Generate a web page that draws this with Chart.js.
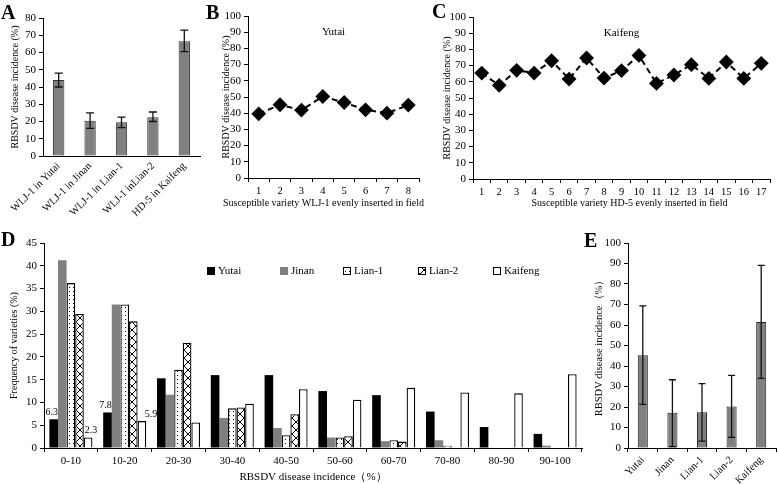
<!DOCTYPE html>
<html>
<head>
<meta charset="utf-8">
<script src="https://cdn.jsdelivr.net/npm/chart.js@4.4.0/dist/chart.umd.min.js"></script>
<style>
    body { margin: 0; background: #fff; width: 778px; height: 484px; position: relative; overflow: hidden; }
    canvas { position: absolute; }
    .letter { position: absolute; font-family: "Liberation Serif", serif; font-weight: bold; font-size: 20px; line-height: 1; color: #000; }
</style>
</head>
<body>
<canvas id="chartA" width="215" height="240" style="left:0;top:0"></canvas>
<canvas id="chartB" width="216" height="215" style="left:218px;top:0"></canvas>
<canvas id="chartC" width="340" height="215" style="left:438px;top:0"></canvas>
<canvas id="chartD" width="590" height="254" style="left:0;top:230px"></canvas>
<canvas id="chartE" width="186" height="254" style="left:592px;top:230px"></canvas>
<div class="letter" style="left:1px;top:2px">A</div>
<div class="letter" style="left:206px;top:2px">B</div>
<div class="letter" style="left:432px;top:1px">C</div>
<div class="letter" style="left:1px;top:229px">D</div>
<div class="letter" style="left:584px;top:230px">E</div>
<script>
// Panel A: susceptible variety in each field
const aLabels = ['WLJ-1 in Yutai', 'WLJ-1 in Jinan', 'WLJ-1 in Lian-1', 'WLJ-1 inLian-2', 'HD-5 in Kaifeng'];
const aValues = [44, 20.5, 19.5, 22.5, 66.5];
const aErrLow = [40, 16, 16.5, 20, 60.5];
const aErrHigh = [48, 25, 22.5, 25.5, 73];

// Panel B: Yutai
const bLabels = ['1', '2', '3', '4', '5', '6', '7', '8'];
const bValues = [39.6, 45.2, 41.9, 50.3, 46.6, 42.1, 40.0, 45.0];

// Panel C: Kaifeng
const cLabels = ['1', '2', '3', '4', '5', '6', '7', '8', '9', '10', '11', '12', '13', '14', '15', '16', '17'];
const cValues = [65.4, 57.8, 67.1, 65.4, 73.0, 61.7, 74.7, 62.3, 66.9, 76.3, 59.0, 64.2, 70.6, 62.1, 72.2, 62.1, 71.4];

// Panel D: frequency distribution
const dLabels = ['0-10', '10-20', '20-30', '30-40', '40-50', '50-60', '60-70', '70-80', '80-90', '90-100'];
const dYutai = [6.3, 7.8, 15.3, 16.0, 16.0, 12.5, 11.6, 8.0, 4.6, 3.1];
const dJinan = [41.2, 31.5, 11.7, 6.6, 4.4, 2.3, 1.5, 1.7, 0, 0.5];
const dLian1 = [36.2, 31.5, 17.2, 8.7, 2.8, 2.3, 1.7, 0.5, 0, 0];
const dLian2 = [29.4, 27.8, 23.1, 8.9, 7.4, 2.6, 1.4, 0, 0, 0];
const dKaifeng = [2.3, 5.9, 5.6, 9.7, 12.9, 10.6, 13.2, 12.2, 12.0, 16.2];

// Panel E: mean incidence per location
const eLabels = ['Yutai', 'Jinan', 'Lian-1', 'Lian-2', 'Kaifeng'];
const eValues = [45.2, 17.2, 17.5, 20.2, 61.5];
const eErrLow = [21.3, 0.7, 3.4, 5.2, 34];
const eErrHigh = [69.3, 33.3, 31.4, 35.4, 89.1];

const SERIF = "'Liberation Serif', 'Times New Roman', serif";
Chart.defaults.font.family = SERIF;
Chart.defaults.font.size = 11;
Chart.defaults.color = '#000';
Chart.defaults.animation = false;
Chart.defaults.responsive = false;
Chart.defaults.plugins.legend.display = false;
Chart.defaults.plugins.tooltip.enabled = false;

// Error bars drawn from the y scale
const errorBars = {
    id: 'errorBars',
    afterDatasetsDraw(chart, args, opts) {
        const ctx = chart.ctx;
        const y = chart.scales.y;
        const meta = chart.getDatasetMeta(0);
        ctx.save();
        ctx.strokeStyle = '#111';
        ctx.lineWidth = 1.3;
        meta.data.forEach((bar, i) => {
            const yl = y.getPixelForValue(opts.low[i]);
            const yh = y.getPixelForValue(opts.high[i]);
            ctx.beginPath();
            ctx.moveTo(bar.x, yl); ctx.lineTo(bar.x, yh);
            ctx.moveTo(bar.x - opts.cap, yl); ctx.lineTo(bar.x + opts.cap, yl);
            ctx.moveTo(bar.x - opts.cap, yh); ctx.lineTo(bar.x + opts.cap, yh);
            ctx.stroke();
        });
        ctx.restore();
    }
};

// Caption inside the plot area and an x title that may run past the axis
const captions = {
    id: 'captions',
    afterDraw(chart, args, opts) {
        const a = chart.chartArea;
        const ctx = chart.ctx;
        const cx = (a.left + a.right) / 2;
        ctx.save();
        ctx.fillStyle = '#000';
        ctx.textAlign = 'center';
        ctx.textBaseline = 'middle';
        ctx.font = '11px ' + SERIF;
        ctx.fillText(opts.inner, cx, a.top + 16);
        ctx.font = '10px ' + SERIF;
        ctx.fillText(opts.xTitle, cx + opts.dx, a.bottom + opts.dy);
        ctx.restore();
    }
};

function yAxis(max, step, title, width, titleSize, titlePad) {
    return {
        min: 0,
        max: max,
        ticks: { stepSize: step, padding: 3, font: { size: 11 } },
        grid: { drawOnChartArea: false, drawTicks: true, tickLength: 4, color: '#000' },
        border: { display: true, color: '#000', width: 1 },
        title: { display: true, text: title, padding: { top: titlePad, bottom: 0 }, font: { size: titleSize } },
        afterFit: s => { s.width = width; }
    };
}

function xAxis(height, opts) {
    opts = opts || {};
    return {
        offset: true,
        ticks: {
            autoSkip: false,
            padding: opts.padding || 2,
            minRotation: opts.rotate || 0,
            maxRotation: opts.rotate || 0,
            font: { size: opts.size || 11 }
        },
        grid: { offset: true, drawOnChartArea: false, drawTicks: opts.ticks !== false, tickLength: 4, color: '#000' },
        border: { display: true, color: '#000', width: 1 },
        title: { display: !!opts.title, text: opts.title || '', padding: { top: 1, bottom: 0 }, font: { size: 11 } },
        afterFit: s => { s.height = height; }
    };
}

// A
new Chart(document.getElementById('chartA'), {
    type: 'bar',
    data: {
        labels: aLabels,
        datasets: [{
            data: aValues,
            backgroundColor: '#808080',
            borderColor: '#333',
            borderWidth: 1,
            borderSkipped: false,
            barPercentage: 0.36,
            categoryPercentage: 1
        }]
    },
    options: {
        layout: { padding: { top: 18, right: 15, left: 0, bottom: 0 } },
        scales: {
            x: xAxis(84, { rotate: 45, ticks: false, size: 10.5, padding: 4 }),
            y: yAxis(80, 10, 'RBSDV disease incidence (%)', 43, 10, 9)
        },
        plugins: { errorBars: { low: aErrLow, high: aErrHigh, cap: 4 } }
    },
    plugins: [errorBars]
});

function lineChart(id, labels, values, xTitle, inner, yWidth, xHeight, pad, titlePad, dx, dy) {
    new Chart(document.getElementById(id), {
        type: 'line',
        data: {
            labels: labels,
            datasets: [{
                data: values,
                borderColor: '#000',
                borderWidth: 2,
                borderDash: [6, 4],
                pointStyle: 'rectRot',
                pointRadius: 6,
                pointBackgroundColor: '#000',
                pointBorderColor: '#000',
                tension: 0
            }]
        },
        options: {
            layout: { padding: pad },
            scales: {
                x: xAxis(xHeight, { size: 10.5, padding: 3 }),
                y: yAxis(100, 10, 'RBSDV disease incidence (%)', yWidth, 10, titlePad)
            },
            plugins: { captions: { inner: inner, xTitle: xTitle, dx: dx, dy: dy } }
        },
        plugins: [captions]
    });
}

// B and C
lineChart('chartB', bLabels, bValues, 'Susceptible variety WLJ-1 evenly inserted in field', 'Yutai', 30, 37,
    { top: 16, right: 15, left: 0, bottom: 0 }, 2, -10, 25);
lineChart('chartC', cLabels, cValues, 'Susceptible variety HD-5 evenly inserted in field', 'Kaifeng', 35, 36,
    { top: 17, right: 6, left: 0, bottom: 0 }, 3, 8, 24);

// Fill patterns for panel D
function dotPattern() {
    const c = document.createElement('canvas');
    c.width = 4; c.height = 4;
    const g = c.getContext('2d');
    g.fillStyle = '#fff'; g.fillRect(0, 0, 4, 4);
    g.fillStyle = '#000'; g.fillRect(1, 1, 1, 1);
    return g.createPattern(c, 'repeat');
}
function crossPattern() {
    const c = document.createElement('canvas');
    c.width = 8; c.height = 8;
    const g = c.getContext('2d');
    g.fillStyle = '#fff'; g.fillRect(0, 0, 8, 8);
    g.strokeStyle = '#000'; g.lineWidth = 1;
    g.beginPath();
    g.moveTo(0, 0); g.lineTo(8, 8);
    g.moveTo(8, 0); g.lineTo(0, 8);
    g.stroke();
    return g.createPattern(c, 'repeat');
}

// Legend of panel D, placed inside the plot area
const dLegend = {
    id: 'dLegend',
    afterDraw(chart, args, opts) {
        const ctx = chart.ctx;
        ctx.save();
        ctx.font = '11px ' + SERIF;
        ctx.textBaseline = 'middle';
        chart.data.datasets.forEach((ds, i) => {
            const x = opts.xs[i], y = opts.y;
            ctx.fillStyle = ds.backgroundColor;
            ctx.fillRect(x, y - 4, 8, 8);
            if (ds.borderWidth) {
                ctx.strokeStyle = '#000';
                ctx.lineWidth = 1;
                ctx.strokeRect(x + 0.5, y - 3.5, 7, 7);
            }
            ctx.fillStyle = '#000';
            ctx.fillText(ds.label, x + 11, y);
        });
        ctx.restore();
    }
};

// Value labels on a few bars of panel D
const dValues = {
    id: 'dValues',
    afterDatasetsDraw(chart, args, opts) {
        const ctx = chart.ctx;
        ctx.save();
        ctx.font = '10px ' + SERIF;
        ctx.fillStyle = '#000';
        ctx.textAlign = 'center';
        ctx.textBaseline = 'bottom';
        opts.items.forEach(([ds, i, dx]) => {
            const bar = chart.getDatasetMeta(ds).data[i];
            const v = chart.data.datasets[ds].data[i];
            ctx.fillText(v.toFixed(1), bar.x + dx, bar.y - 2);
        });
        ctx.restore();
    }
};

// D
new Chart(document.getElementById('chartD'), {
    type: 'bar',
    data: {
        labels: dLabels,
        datasets: [
            { label: 'Yutai', data: dYutai, backgroundColor: '#000', borderColor: '#000', borderWidth: 0 },
            { label: 'Jinan', data: dJinan, backgroundColor: '#808080', borderColor: '#808080', borderWidth: 0 },
            { label: 'Lian-1', data: dLian1, backgroundColor: dotPattern(), borderColor: '#000', borderWidth: 1.3 },
            { label: 'Lian-2', data: dLian2, backgroundColor: crossPattern(), borderColor: '#000', borderWidth: 1.3 },
            { label: 'Kaifeng', data: dKaifeng, backgroundColor: '#fff', borderColor: '#000', borderWidth: 1.3 }
        ]
    },
    options: {
        datasets: { bar: { barPercentage: 1, categoryPercentage: 0.8 } },
        layout: { padding: { top: 13, right: 8, left: 0, bottom: 0 } },
        scales: {
            x: xAxis(36, { title: 'RBSDV disease incidence（%）', padding: 3 }),
            y: yAxis(45, 5, 'Frequency of varieties (%)', 44, 10, 8)
        },
        plugins: {
            dLegend: { xs: [207, 280, 343, 418, 493], y: 41 },
            dValues: { items: [[0, 0, -2], [0, 1, -2], [4, 0, 3], [4, 1, 9]] }
        }
    },
    plugins: [dLegend, dValues]
});

// E
new Chart(document.getElementById('chartE'), {
    type: 'bar',
    data: {
        labels: eLabels,
        datasets: [{
            data: eValues,
            backgroundColor: '#808080',
            borderColor: '#222',
            borderWidth: 1,
            borderSkipped: false,
            barPercentage: 0.34,
            categoryPercentage: 1
        }]
    },
    options: {
        layout: { padding: { top: 13, right: 2, left: 0, bottom: 0 } },
        scales: {
            x: xAxis(36, { rotate: 45, size: 10.5, padding: 2 }),
            y: yAxis(100, 10, 'RBSDV disease incidence（%）', 36, 10.5, 1)
        },
        plugins: { errorBars: { low: eErrLow, high: eErrHigh, cap: 3.5 } }
    },
    plugins: [errorBars]
});
</script>
</body>
</html>
